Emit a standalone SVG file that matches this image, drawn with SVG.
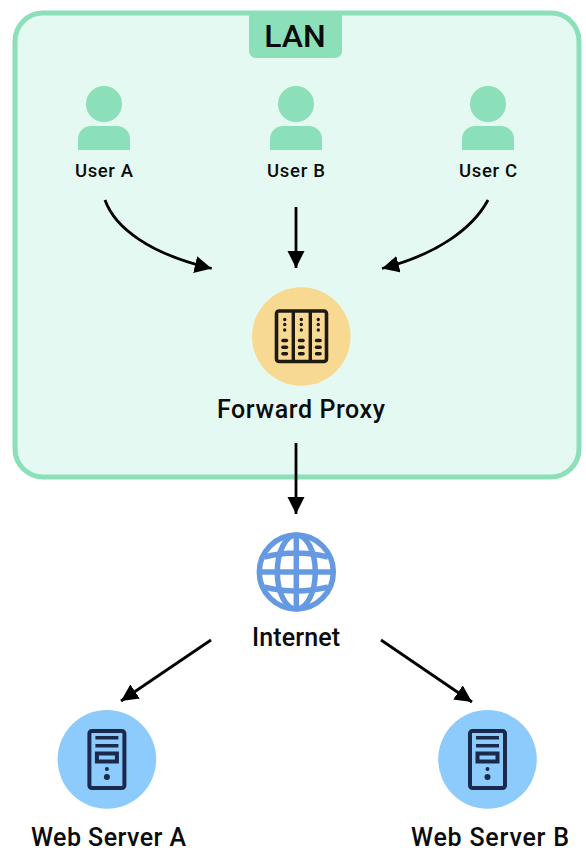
<svg xmlns="http://www.w3.org/2000/svg" width="586" height="868" viewBox="0 0 586 868">
<style>
text{font-family:"Roboto","Noto Sans","Liberation Sans",sans-serif;font-weight:500;fill:#0b0b0b;text-anchor:middle}
.u{font-size:18.500px}.l{font-size:25px}
.c{fill:none;stroke:#000;stroke-width:2.800}
.g{fill:#8be0b9}
.sv{fill:none;stroke:#1b2a4c;stroke-width:4}
.svf{fill:#1b2a4c}
.px{fill:#1e1a12}
.gl{fill:none;stroke:#659ae2;stroke-width:5.500}
</style>
<defs>
<marker id="a" markerUnits="userSpaceOnUse" markerWidth="18" markerHeight="18" refX="17" refY="8.500" orient="auto"><path d="M0 0L17 8.500L0 17Z" fill="#000"/></marker>
<g id="user"><circle cx="0" cy="-18" r="18" class="g"/><path class="g" d="M-26 28V17a13 13 0 0 1 13-13H13a13 13 0 0 1 13 13V28Z"/></g>
<g id="srv"><rect x="-17.500" y="-29" width="35" height="57" rx="2.500" class="sv"/><rect x="-11.500" y="-24" width="23" height="3.500" class="svf"/><rect x="-11.500" y="-16" width="23" height="3.500" class="svf"/><rect x="-10" y="-6.500" width="20" height="8" class="sv"/><circle cx="0" cy="9" r="2" class="svf"/><circle cx="0" cy="17" r="3" class="svf"/></g>
<g id="col"><circle cx="0" cy="-20" r="1.700" class="px"/><circle cx="0" cy="-15" r="1.700" class="px"/><circle cx="0" cy="-9.500" r="1.700" class="px"/><rect x="-3.500" y="-0.800" width="7" height="3.500" rx="1.700" class="px"/><rect x="-3.500" y="6" width="7" height="3.500" rx="1.700" class="px"/><rect x="-3.500" y="12.500" width="7" height="3.500" rx="1.700" class="px"/></g>
</defs>
<g id="lan">
<rect x="15" y="13" width="564" height="464" rx="28" fill="#e5f9f3" stroke="#8be0b9" stroke-width="5"/>
<path class="g" d="M249 13H342V51a7 7 0 0 1-7 7H256a7 7 0 0 1-7-7Z"/>
<text x="295" y="46.500" style="font-size:32px">LAN</text>
</g>
<g id="connectors">
<path class="c" marker-end="url(#a)" d="M105 200C115 228 150 254 211.700 268.500"/>
<path class="c" marker-end="url(#a)" d="M296 207V268"/>
<path class="c" marker-end="url(#a)" d="M488 200C473 228 438 254 382 268.500"/>
<path class="c" marker-end="url(#a)" d="M296 443V514"/>
<path class="c" marker-end="url(#a)" d="M211 640L121 701"/>
<path class="c" marker-end="url(#a)" d="M381 640L472 702"/>
</g>
<g id="user-a"><use href="#user" x="104" y="122"/><text class="u" x="104" y="176.500" textLength="58">User A</text></g>
<g id="user-b"><use href="#user" x="296" y="122"/><text class="u" x="296" y="176.500" textLength="58">User B</text></g>
<g id="user-c"><use href="#user" x="488" y="122"/><text class="u" x="488" y="176.500" textLength="58">User C</text></g>
<g id="forward-proxy">
<circle cx="301.300" cy="336.500" r="49.300" fill="#f8d992"/>
<rect x="276.500" y="311" width="50" height="50.500" rx="2.500" fill="none" stroke="#1e1a12" stroke-width="3.600"/>
<path d="M293.300 311V361.500M310.300 311V361.500" stroke="#1e1a12" stroke-width="3.400"/>
<use href="#col" x="284.700" y="339.500"/><use href="#col" x="301.300" y="339.500"/><use href="#col" x="318.300" y="339.500"/>
<text class="l" x="301" y="418" textLength="168">Forward Proxy</text>
</g>
<g id="internet">
<circle cx="296.300" cy="572" r="37" class="gl"/>
<ellipse cx="296.300" cy="572" rx="19" ry="37" class="gl"/>
<path class="gl" d="M296.300 534V610M259 572H334M264 557Q296 549 328 557M264 587Q296 595 328 587"/>
<text class="l" x="296" y="646" textLength="88">Internet</text>
</g>
<g id="web-a">
<circle cx="106.900" cy="759.400" r="49.300" fill="#8ccbfb"/>
<use href="#srv" x="106.900" y="760"/>
<text class="l" x="108.500" y="846" textLength="155">Web Server A</text>
</g>
<g id="web-b">
<circle cx="487.500" cy="759.400" r="49.300" fill="#8ccbfb"/>
<use href="#srv" x="487.500" y="760"/>
<text class="l" x="490" y="846" textLength="158">Web Server B</text>
</g>
</svg>
